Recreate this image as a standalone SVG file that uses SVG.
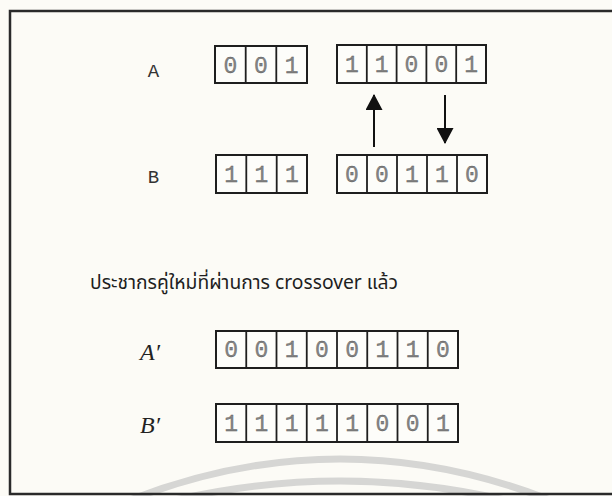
<svg xmlns="http://www.w3.org/2000/svg" width="612" height="496" viewBox="0 0 612 496">
<style>
.bg{fill:#fcfbf6}
.frame{fill:none;stroke:#2a2a2a;stroke-width:2.5}
.box{fill:#fdfdfa;stroke:#1e1e1e;stroke-width:2}
.sep{stroke:#1e1e1e;stroke-width:1.8}
.dig{font-family:"Liberation Mono","Courier New",monospace;font-size:23px;fill:#858585;stroke:#555;stroke-width:0.3;text-anchor:middle}
.lab{font-family:"Liberation Mono","Courier New",monospace;font-size:19px;fill:#333;text-anchor:middle}
.ital{font-family:"Liberation Serif","Times New Roman",serif;font-style:italic;font-size:24px;fill:#222}
.thai{font-family:"Noto Sans","Noto Sans Thai","DejaVu Sans",sans-serif;font-size:19.5px;fill:#1e1e1e}
.arrow{stroke:#111;stroke-width:2;fill:none}
.wm{fill:none;stroke:#d6d6d4;stroke-width:7}
</style>
<defs>
<marker id="ah" viewBox="0 0 16 17" refX="15" refY="8.5" markerWidth="16" markerHeight="17" markerUnits="userSpaceOnUse" orient="auto">
<path d="M0,0 L16,8.5 L0,17 Z" fill="#111"/>
</marker>
</defs>
<rect class="bg" x="0" y="0" width="612" height="496"/>
<path class="wm" d="M130,500 Q340,418 550,500"/>
<path class="wm" d="M175,500 Q340,462 505,500"/>
<rect class="frame" x="10" y="11" width="620" height="483"/>

<g id="rowA">
<text class="lab" x="153.5" y="77">A</text>
<g id="A-left">
<rect class="box" x="215" y="46" width="92" height="37"/>
<line class="sep" x1="245.7" y1="46" x2="245.7" y2="83"/>
<line class="sep" x1="276.3" y1="46" x2="276.3" y2="83"/>
<text class="dig" x="230.3" y="73">0</text>
<text class="dig" x="261" y="73">0</text>
<text class="dig" x="291.7" y="73">1</text>
</g>
<g id="A-right">
<rect class="box" x="337" y="45" width="149" height="38"/>
<line class="sep" x1="366.8" y1="45" x2="366.8" y2="83"/>
<line class="sep" x1="396.6" y1="45" x2="396.6" y2="83"/>
<line class="sep" x1="426.4" y1="45" x2="426.4" y2="83"/>
<line class="sep" x1="456.2" y1="45" x2="456.2" y2="83"/>
<text class="dig" x="351.9" y="72">1</text>
<text class="dig" x="381.7" y="72">1</text>
<text class="dig" x="411.5" y="72">0</text>
<text class="dig" x="441.3" y="72">0</text>
<text class="dig" x="471.1" y="72">1</text>
</g>
</g>

<g id="rowB">
<text class="lab" x="153.5" y="183">B</text>
<g id="B-left">
<rect class="box" x="216" y="155" width="91" height="38"/>
<line class="sep" x1="246.3" y1="155" x2="246.3" y2="193"/>
<line class="sep" x1="276.7" y1="155" x2="276.7" y2="193"/>
<text class="dig" x="231.2" y="182">1</text>
<text class="dig" x="261.5" y="182">1</text>
<text class="dig" x="291.8" y="182">1</text>
</g>
<g id="B-right">
<rect class="box" x="337" y="155" width="150" height="38"/>
<line class="sep" x1="367" y1="155" x2="367" y2="193"/>
<line class="sep" x1="397" y1="155" x2="397" y2="193"/>
<line class="sep" x1="427" y1="155" x2="427" y2="193"/>
<line class="sep" x1="457" y1="155" x2="457" y2="193"/>
<text class="dig" x="352" y="182">0</text>
<text class="dig" x="382" y="182">0</text>
<text class="dig" x="412" y="182">1</text>
<text class="dig" x="442" y="182">1</text>
<text class="dig" x="472" y="182">0</text>
</g>
</g>

<g id="connectors">
<line class="arrow" x1="374" y1="147" x2="374" y2="95" marker-end="url(#ah)"/>
<line class="arrow" x1="445" y1="95" x2="445" y2="143" marker-end="url(#ah)"/>
</g>

<g id="caption">
<text class="thai" x="90" y="289" textLength="308" lengthAdjust="spacingAndGlyphs">ประชากรคู่ใหม่ที่ผ่านการ crossover แล้ว</text>
</g>

<g id="rowA2">
<text class="ital" x="140" y="360">A′</text>
<rect class="box" x="216" y="331" width="242" height="37"/>
<line class="sep" x1="246.25" y1="331" x2="246.25" y2="368"/>
<line class="sep" x1="276.5" y1="331" x2="276.5" y2="368"/>
<line class="sep" x1="306.75" y1="331" x2="306.75" y2="368"/>
<line class="sep" x1="337" y1="331" x2="337" y2="368"/>
<line class="sep" x1="367.25" y1="331" x2="367.25" y2="368"/>
<line class="sep" x1="397.5" y1="331" x2="397.5" y2="368"/>
<line class="sep" x1="427.75" y1="331" x2="427.75" y2="368"/>
<text class="dig" x="231.1" y="357">0</text>
<text class="dig" x="261.4" y="357">0</text>
<text class="dig" x="291.6" y="357">1</text>
<text class="dig" x="321.9" y="357">0</text>
<text class="dig" x="352.1" y="357">0</text>
<text class="dig" x="382.4" y="357">1</text>
<text class="dig" x="412.6" y="357">1</text>
<text class="dig" x="442.9" y="357">0</text>
</g>

<g id="rowB2">
<text class="ital" x="140" y="433">B′</text>
<rect class="box" x="216" y="404" width="242" height="38"/>
<line class="sep" x1="246.25" y1="404" x2="246.25" y2="442"/>
<line class="sep" x1="276.5" y1="404" x2="276.5" y2="442"/>
<line class="sep" x1="306.75" y1="404" x2="306.75" y2="442"/>
<line class="sep" x1="337" y1="404" x2="337" y2="442"/>
<line class="sep" x1="367.25" y1="404" x2="367.25" y2="442"/>
<line class="sep" x1="397.5" y1="404" x2="397.5" y2="442"/>
<line class="sep" x1="427.75" y1="404" x2="427.75" y2="442"/>
<text class="dig" x="231.1" y="431">1</text>
<text class="dig" x="261.4" y="431">1</text>
<text class="dig" x="291.6" y="431">1</text>
<text class="dig" x="321.9" y="431">1</text>
<text class="dig" x="352.1" y="431">1</text>
<text class="dig" x="382.4" y="431">0</text>
<text class="dig" x="412.6" y="431">0</text>
<text class="dig" x="442.9" y="431">1</text>
</g>
</svg>
